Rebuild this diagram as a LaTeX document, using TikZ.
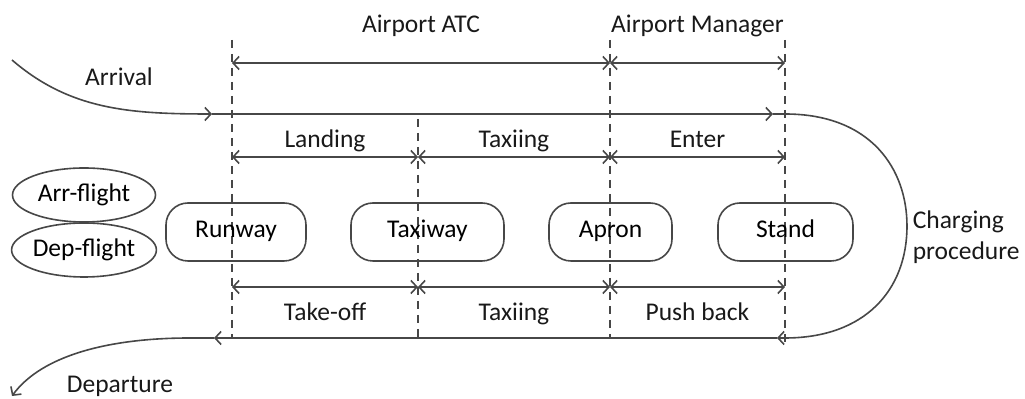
\documentclass[tikz,border=0pt]{standalone}
\usepackage{fontspec}
\setmainfont{Carlito}
\usepackage{tikz}
\usetikzlibrary{shapes.geometric}
\usetikzlibrary{arrows.meta}
\newcommand{\lblsize}{\fontsize{12.75}{15.5}\selectfont}
\tikzset{
	place/.style={draw,rounded corners=11pt,minimum width=#1,minimum height=29pt,
		inner sep=0pt,font=\lblsize,text height=9pt,text depth=3pt},
	flight/.style={draw,ellipse,minimum width=71.5pt,minimum height=27pt,inner sep=0pt,font=\lblsize},
	lbl/.style={inner sep=0pt,font=\lblsize,text=black!90},
	row lbl/.style={lbl,text height=9pt,text depth=3pt},
	border/.style={dash pattern=on 4pt off 3pt}
}

\begin{document}
\begin{tikzpicture}[x=0.5pt,y=-0.5pt,line width=0.8pt,draw=black!72,
	    >={Straight Barb[length=3pt,width=6.5pt]}]
	    \useasboundingbox (0,0) rectangle (1025,399);
	    % area borders
	    \coordinate (rwyT) at (232,40);  \coordinate (rwyB) at (232,337);
	    \coordinate (twyT) at (418,119); \coordinate (twyB) at (418,337);
	    \coordinate (apnT) at (610,40);  \coordinate (apnB) at (610,337);
	    \coordinate (stdT) at (785,40);  \coordinate (stdB) at (785,344);
	    \draw[border] (rwyT) -- (rwyB);
	    \draw[border] (twyT) -- (twyB);
	    \draw[border] (apnT) -- (apnB);
	    \draw[border] (stdT) -- (stdB);
	    % arrow rows
	    \foreach \y/\r in {63/top,157/mid,287/bot} {
	      \foreach \x/\c in {232/a,418/b,610/c,785/d}
	        \coordinate (\r\c) at (\x,\y);
	    }
	    \draw[<->] (topa) -- node[row lbl,yshift=18pt] (atc) {Airport ATC} (topc);
	    \draw[<->] (topc) -- node[row lbl,yshift=18pt] (mgr) {Airport Manager} (topd);
	    \draw[<->] (mida) -- node[row lbl,yshift=7.5pt] (landing) {Landing} (midb);
	    \draw[<->] (midb) -- node[row lbl,yshift=7.5pt] (taxiin) {Taxiing} (midc);
	    \draw[<->] (midc) -- node[row lbl,yshift=7.5pt] (enter) {Enter} (midd);
	    \draw[<->] (bota) -- node[row lbl,yshift=-14pt] (takeoff) {Take-off} (botb);
	    \draw[<->] (botb) -- node[row lbl,yshift=-14pt] (taxiout) {Taxiing} (botc);
	    \draw[<->] (botc) -- node[row lbl,yshift=-14pt] (pushback) {Push back} (botd);
	    % places
	    \node[place=70pt] (runway) at (236,232) {Runway};
	    \node[place=76.5pt] (taxiway) at (427.5,232) {Taxiway};
	    \node[place=61.5pt] (apron) at (610.5,232) {Apron};
	    \node[place=67.5pt] (stand) at (785.5,232) {Stand};
	    \node[flight] (arr) at (84,195) {Arr-flight};
	    \node[flight] (dep) at (84,250) {Dep-flight};
	    % flight path
	    \coordinate (arrIn) at (12,60);
	    \coordinate (arrTip) at (212,114);
	    \coordinate (stdIn) at (773,114);
	    \coordinate (stdOut) at (785,114);
	    \coordinate (stdBack) at (785,338);
	    \coordinate (chgTip) at (777,338);
	    \coordinate (rwyOut) at (214,338);
	    \coordinate (depEnd) at (12,396);
	    \draw[->] (arrIn) .. controls (70,110) and (130,114) .. (arrTip);
	    \draw[->] (arrTip) -- (stdIn);
	    \draw[->] (stdIn) -- (stdOut) .. controls (872,114) and (907,170) .. (907,226)
	      .. controls (907,290) and (865,338) .. (stdBack) -- (chgTip);
	    \draw[->] (chgTip) -- (rwyOut);
	    \draw[->] (rwyOut) -- (190,338) .. controls (110,338) and (42,355) .. (depEnd);
	    \node[row lbl] (arrival) at (119,80) {Arrival};
	    \node[row lbl] (departure) at (120,387) {Departure};
	    \node[lbl,anchor=west,align=left] (charging) at (912,237) {Charging\\procedure};
	  \end{tikzpicture}
\end{document}
